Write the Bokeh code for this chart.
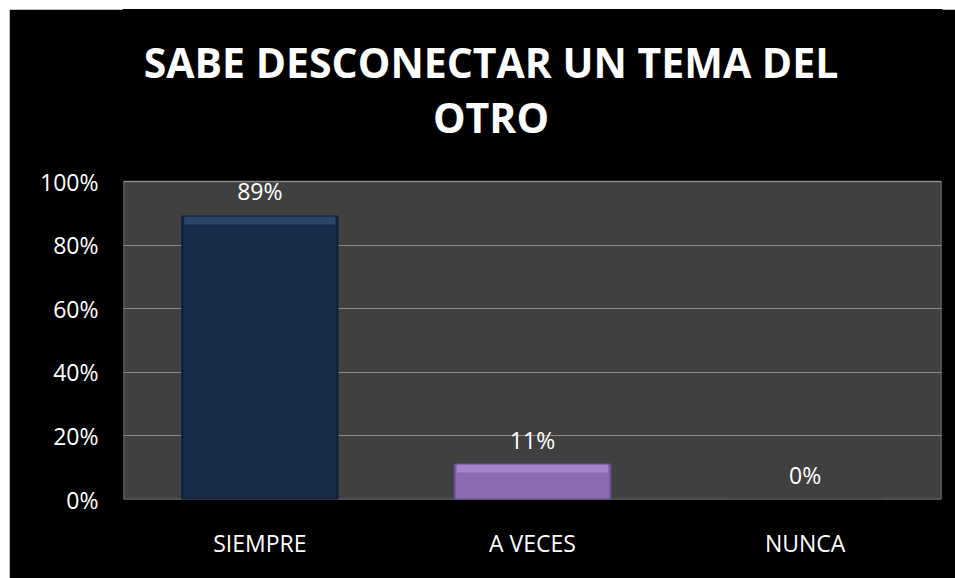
from bokeh.plotting import figure
from bokeh.models import ColumnDataSource, Range1d, FixedTicker, NumeralTickFormatter
from bokeh.core.properties import value
from bokeh.embed import file_html
from bokeh.resources import INLINE

categories = ["SIEMPRE", "A VECES", "NUNCA"]
shares = [0.89, 0.11, 0.0]
share_labels = ["89%", "11%", "0%"]
bar_colors = ["#182b49", "#8b6cb0", "#404040"]
edge_colors = ["#10203a", "#6f5394", "#404040"]
bevel_colors = ["#3a5780", "#b898df", "#404040"]
title_lines = ["SABE DESCONECTAR UN TEMA DEL", "OTRO"]
y_ticks = [0, 0.2, 0.4, 0.6, 0.8, 1.0]

FRAME_H = 490          # frame runs from the top of the figure to the axis
AREA_H = 318           # pixels between 0% and 100%
BEVEL = 8 / AREA_H     # height of the lighter strip at the top of each bar

src = ColumnDataSource(dict(cat=categories, v=shares, lab=share_labels,
                            fc=bar_colors, lc=edge_colors, bc=bevel_colors,
                            vb=[s - BEVEL for s in shares]))

p = figure(x_range=categories, y_range=Range1d(0, FRAME_H / AREA_H), width=946, height=569,
           output_backend="svg", toolbar_location=None, title=None,
           min_border_left=114, min_border_right=14, min_border_top=0, min_border_bottom=79)
p.margin = (9, 0, 0, 9)
p.background_fill_color = "#000000"
p.border_fill_color = "#000000"
p.outline_line_color = "#000000"
p.outline_line_width = 2

# plot area (gray panel with border), drawn below the grid
p.quad(left=0, right=len(categories), bottom=y_ticks[0], top=y_ticks[-1],
       fill_color="#404040", line_color="#8a8a8a", line_width=1.5, level="image")

p.vbar(x="cat", top="v", width=0.57, source=src, fill_color="fc", line_color="lc", line_width=2)
p.vbar(x="cat", top="v", bottom="vb", width=0.555, source=src, fill_color="bc",
       fill_alpha=0.6, line_color=None)
p.text(x="cat", y="v", text="lab", source=src, text_color="#ffffff",
       text_font=value("Open Sans"), text_font_size="23px",
       text_align="center", text_baseline="middle", y_offset=-25)

# chart title (two centred lines above the plot area)
p.text(x=[categories[1]] * 2, y=[y_ticks[-1]] * 2, text=title_lines,
       x_offset=-41.5, y_offset=[-120, -65],
       text_color="#ffffff", text_font=value("Open Sans"), text_font_style="bold",
       text_font_size="41px", text_align="center", text_baseline="middle")

p.xgrid.grid_line_color = None
p.ygrid.grid_line_color = "#8a8a8a"
p.ygrid.grid_line_width = 1.2
p.ygrid.ticker = FixedTicker(ticks=y_ticks)
p.yaxis.ticker = FixedTicker(ticks=y_ticks)
p.yaxis.formatter = NumeralTickFormatter(format="0%")
for ax in (p.xaxis, p.yaxis):
    ax.axis_line_color = None
    ax.major_tick_line_color = None
    ax.minor_tick_line_color = None
    ax.major_tick_out = 0
    ax.major_tick_in = 0
    ax.major_label_text_color = "#ffffff"
    ax.major_label_text_font = "Open Sans"
    ax.major_label_text_font_size = "23px"
p.yaxis.major_label_standoff = 25
p.xaxis.major_label_standoff = 27

open("out.html", "w").write(file_html(p, INLINE))
